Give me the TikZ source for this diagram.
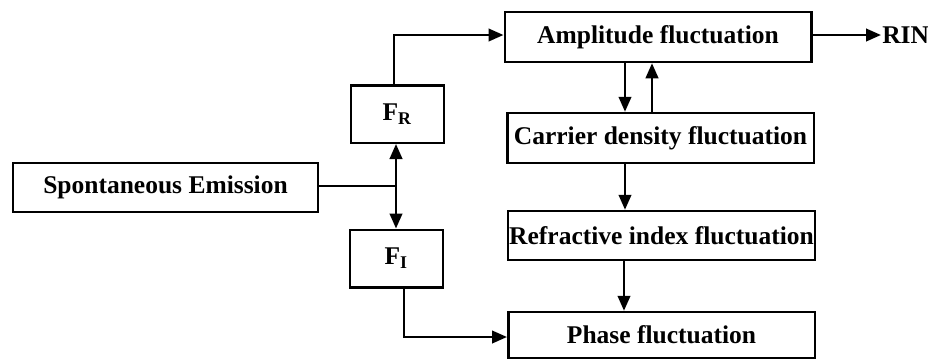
\documentclass[tikz,border=0pt]{standalone}
\usepackage{fontspec}
\setmainfont{Liberation Serif}
\usetikzlibrary{arrows.meta}

\begin{document}
\begin{tikzpicture}[x=0.4pt, y=-0.4pt, line width=1pt,
        >={Triangle[length=6pt,width=5pt]},
        every node/.append style={font=\fontsize{10.2}{12}\selectfont\bfseries}]
      \tikzstyle{block} = [draw, rectangle, inner xsep=0.5pt, inner ysep=0pt, minimum width=122.6pt]
      \tikzstyle{small} = [draw, rectangle, minimum width=37.2pt, minimum height=23pt]
      \useasboundingbox (0,0) rectangle (928,361);
      \node (SE) [block, minimum width=122pt, minimum height=19.6pt] at (165.5,187.5) {Spontaneous Emission};
      \node (FR) [small] at (397.5,114) {F\textsubscript{R}};
      \node (FI) [small] at (396.5,258.5) {F\textsubscript{I}};
      \node (AMP) [block, minimum height=20pt] at (658,37) {Amplitude fluctuation};
      \node (CAR) [block, minimum height=20pt] at (660.5,138) {Carrier density fluctuation};
      \node (REF) [block, minimum height=19.6pt] at (661.5,235.5) {Refractive index fluctuation};
      \node (PH) [block, minimum height=18.4pt] at (661.5,335) {Phase fluctuation};
      \node (RIN) [anchor=west, inner sep=0pt] at (881,35) {RIN};
      \coordinate (J) at (396,186);
      % emission splits into the two noise sources
      \draw (SE.east |- J) -- (J);
      \draw [<->] (FR.south -| J) -- (FI.north -| J);
      \draw [->] (FR.north -| 394,0) |- (AMP.west |- 0,35);
      \draw [->] (FI.south -| 404,0) |- (PH.west |- 0,337);
      % chain on the right
      \draw [->] (AMP.south -| 625,0) -- (CAR.north -| 625,0);
      \draw [->] (CAR.north -| 652,0) -- (AMP.south -| 652,0);
      \draw [->] (CAR.south -| 625,0) -- (REF.north -| 625,0);
      \draw [->] (REF.south -| 624,0) -- (PH.north -| 624,0);
      \draw [->] (AMP.east |- 0,35) -- (RIN.west);
    \end{tikzpicture}
\end{document}
